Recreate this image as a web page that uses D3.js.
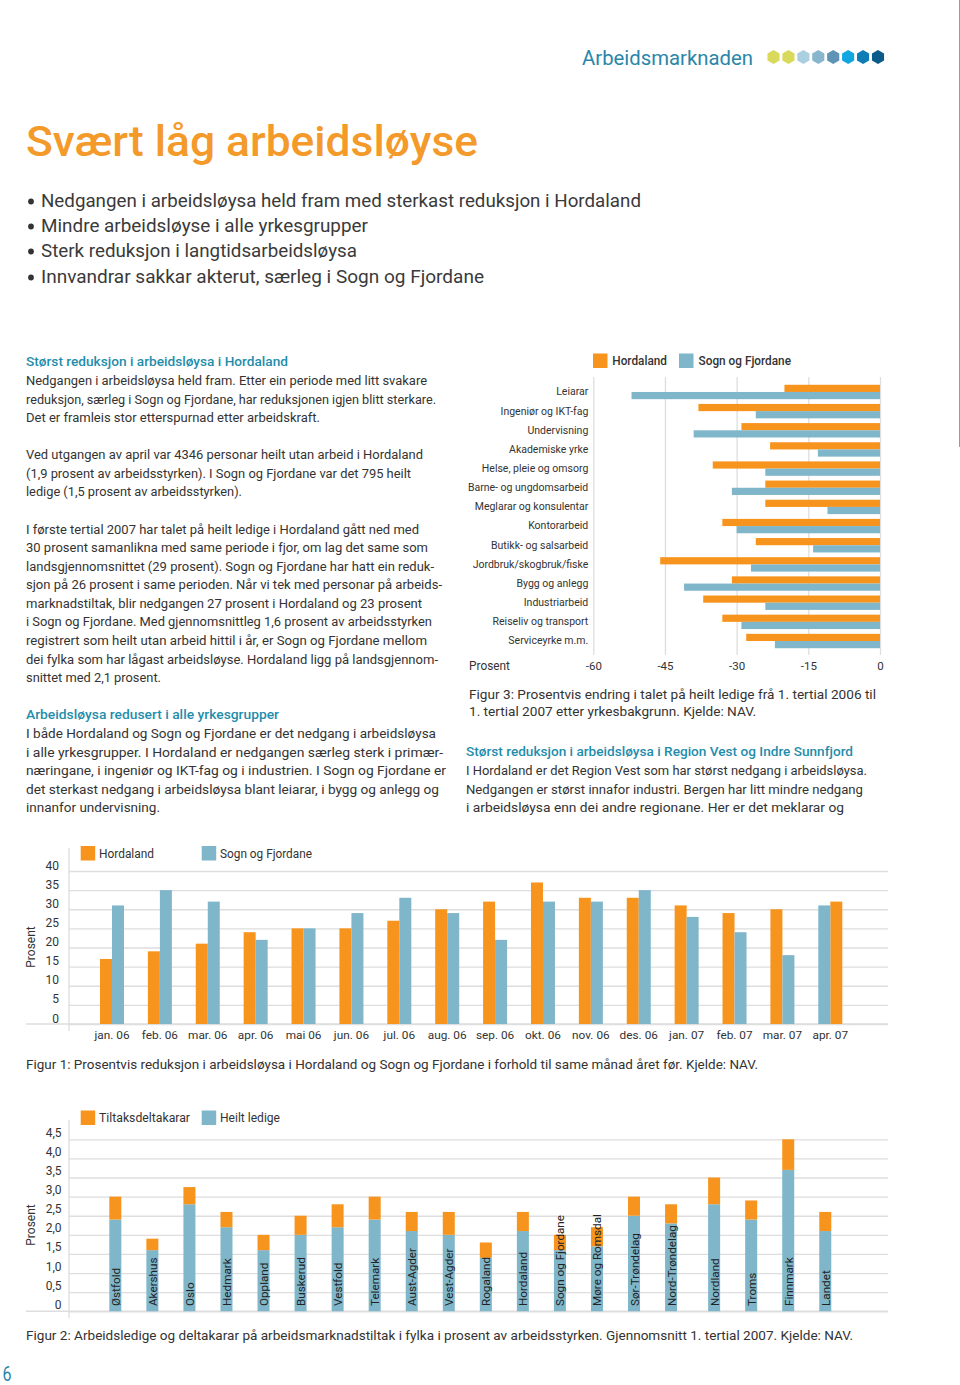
<!DOCTYPE html>
<html lang="nn">
<head>
<meta charset="utf-8">
<script src="https://cdn.jsdelivr.net/npm/d3@7"></script>
<style>
html,body{margin:0;padding:0;background:#fff;}
svg{display:block;font-family:Roboto,"Open Sans",sans-serif;}
</style>
</head>
<body>
<svg id="page" width="960" height="1385"></svg>
<script>
// ---------- chart data ----------
const occupations = ["Leiarar","Ingeniør og IKT-fag","Undervisning","Akademiske yrke","Helse, pleie og omsorg","Barne- og ungdomsarbeid","Meglarar og konsulentar","Kontorarbeid","Butikk- og salsarbeid","Jordbruk/skogbruk/fiske","Bygg og anlegg","Industriarbeid","Reiseliv og transport","Serviceyrke m.m."];
const occHordaland = [-20,-38,-29,-23,-35,-24,-24,-33,-26,-46,-31,-37,-33,-28];
const occSogn = [-52,-26,-39,-13,-24,-31,-11,-30,-14,-27,-41,-24,-29,-22];
const occTicks = [-60,-45,-30,-15,0];

const months = ["jan. 06","feb. 06","mar. 06","apr. 06","mai 06","jun. 06","jul. 06","aug. 06","sep. 06","okt. 06","nov. 06","des. 06","jan. 07","feb. 07","mar. 07","apr. 07"];
const monthHordaland = [17,19,21,24,25,25,27,30,32,37,33,33,31,29,30,32];
const monthSogn = [31,35,32,22,25,29,33,29,22,32,32,35,28,24,18,31];
const monthTicks = [0,5,10,15,20,25,30,35,40];

const counties = ["Østfold","Akershus","Oslo","Hedmark","Oppland","Buskerud","Vestfold","Telemark","Aust-Agder","Vest-Agder","Rogaland","Hordaland","Sogn og Fjordane","Møre og Romsdal","Sør-Trøndelag","Nord-Trøndelag","Nordland","Troms","Finnmark","Landet"];
const heiltLedige = [2.4,1.6,2.8,2.2,1.6,2.0,2.2,2.4,2.1,2.0,1.4,2.1,1.6,1.7,2.5,2.3,2.8,2.4,3.7,2.1];
const tiltaksdeltakarar = [0.6,0.3,0.45,0.4,0.4,0.5,0.6,0.6,0.5,0.6,0.4,0.5,0.4,0.5,0.5,0.5,0.7,0.5,0.8,0.5];
const countyTicks = [0,0.5,1,1.5,2,2.5,3,3.5,4,4.5];

// ---------- page text ----------
const bullets = [
 ["Nedgangen i arbeidsløysa held fram med sterkast reduksjon i Hordaland",207,641],
 ["Mindre arbeidsløyse i alle yrkesgrupper",232,368],
 ["Sterk reduksjon i langtidsarbeidsløysa",257,357],
 ["Innvandrar sakkar akterut, særleg i Sogn og Fjordane",283,484]];
const leftColumn = [
 ["Størst reduksjon i arbeidsløysa i Hordaland",366,288,1],
 ["Nedgangen i arbeidsløysa held fram. Etter ein periode med litt svakare",385,427],
 ["reduksjon, særleg i Sogn og Fjordane, har reduksjonen igjen blitt sterkare.",403.5,436],
 ["Det er framleis stor etterspurnad etter arbeidskraft.",422,320],
 ["Ved utgangen av april var 4346 personar heilt utan arbeid i Hordaland",459,423],
 ["(1,9 prosent av arbeidsstyrken). I Sogn og Fjordane var det 795 heilt",478,411],
 ["ledige (1,5 prosent av arbeidsstyrken).",496,242],
 ["I første tertial 2007 har talet på heilt ledige i Hordaland gått ned med",533.5,419],
 ["30 prosent samanlikna med same periode i fjor, om lag det same som",552,428],
 ["landsgjennomsnittet (29 prosent). Sogn og Fjordane har hatt ein reduk-",570.5,434],
 ["sjon på 26 prosent i same perioden. Når vi tek med personar på arbeids-",589,442],
 ["marknadstiltak, blir nedgangen 27 prosent i Hordaland og 23 prosent",607.5,422],
 ["i Sogn og Fjordane. Med gjennomsnittleg 1,6 prosent av arbeidsstyrken",626,432],
 ["registrert som heilt utan arbeid hittil i år, er Sogn og Fjordane mellom",645,427],
 ["dei fylka som har lågast arbeidsløyse. Hordaland ligg på landsgjennom-",663.5,438],
 ["snittet med 2,1 prosent.",682,161],
 ["Arbeidsløysa redusert i alle yrkesgrupper",719,279,1],
 ["I både Hordaland og Sogn og Fjordane er det nedgang i arbeidsløysa",738,436],
 ["i alle yrkesgrupper. I Hordaland er nedgangen særleg sterk i primær-",756.5,443],
 ["næringane, i ingeniør og IKT-fag og i industrien. I Sogn og Fjordane er",775,446],
 ["det sterkast nedgang i arbeidsløysa blant leiarar, i bygg og anlegg og",793.5,439],
 ["innanfor undervisning.",812,160]];
const rightColumn = [
 ["Størst reduksjon i arbeidsløysa i Region Vest og Indre Sunnfjord",756,853,1],
 ["I Hordaland er det Region Vest som har størst nedgang i arbeidsløysa.",775,867],
 ["Nedgangen er størst innafor industri. Bergen har litt mindre nedgang",793.5,863],
 ["i arbeidsløysa enn dei andre regionane. Her er det meklarar og",812,844]];
const hexColors = ["#d9d95c","#d9d95c","#a9cfe1","#88b6cd","#5f94b6","#12a6e0","#0e7db6","#0b5c88"];

// ---------- styles ----------
const ORANGE="#f7941e", BLUE="#7fb6ca", GRID="#dedede", INK="#333333", TEAL="#1f8dab";
const svg = d3.select("#page");

function line(str,x,y,end,size,fill,weight){
  const t = svg.append("text").attr("x",x).attr("y",y).attr("font-size",size).attr("fill",fill||INK)
    .attr("font-weight",weight||400).text(str);
  if(end){ t.attr("textLength",end-x).attr("lengthAdjust","spacingAndGlyphs"); }
  return t;
}
function swatch(x,y,color){ svg.append("rect").attr("x",x).attr("y",y).attr("width",14.5).attr("height",14.5).attr("fill",color); }
function styleAxis(g){
  g.select(".domain").remove();
  g.selectAll(".tick line").attr("stroke",GRID).attr("stroke-width",1.3);
  g.selectAll(".tick text").attr("fill",INK).attr("font-size",11.5).attr("font-family","Roboto,sans-serif");
}

// ---------- header ----------
svg.append("line").attr("x1",959.5).attr("x2",959.5).attr("y1",0).attr("y2",447).attr("stroke","#9a9a9a").attr("stroke-width",1);
line("Arbeidsmarknaden",582,65,753,20,"#2a86a8");
const hexX = d3.scalePoint().domain(d3.range(hexColors.length)).range([773.5,878]);
const hexPath = d3.lineRadial().angle((d,i)=>i*Math.PI/3).radius(7).curve(d3.curveLinearClosed);
svg.selectAll(".hex").data(hexColors).join("path").attr("class","hex")
  .attr("transform",(d,i)=>`translate(${hexX(i)},57)`)
  .attr("d",hexPath(d3.range(6))).attr("fill",d=>d);

line("Svært låg arbeidsløyse",26,156,478,42,"#f39a2b",500);
bullets.forEach(b=>{
  svg.append("circle").attr("cx",31).attr("cy",b[1]-5.5).attr("r",2.9).attr("fill",INK);
  line(b[0],41,b[1],b[2],18,"#3a3a3a");
});
leftColumn.forEach(l=>line(l[0],26,l[1],l[2],12.5,l[3]?TEAL:INK,l[3]?500:400));
rightColumn.forEach(l=>line(l[0],466,l[1],l[2],12.5,l[3]?TEAL:INK,l[3]?500:400));
line("Figur 3: Prosentvis endring i talet på heilt ledige frå 1. tertial 2006 til",469,699,876,13,INK);
line("1. tertial 2007 etter yrkesbakgrunn. Kjelde: NAV.",469,715.5,756,13,INK);

// ---------- Figur 3 (horizontal bars) ----------
{
  const x = d3.scaleLinear().domain([-60,0]).range([593.3,880]);
  const y = d3.scaleBand().domain(occupations).range([382.4,650.6]);
  const sub = d3.scaleBand().domain(["h","s"]).range([y.bandwidth()/2-7.2,y.bandwidth()/2+7.2]);
  svg.append("g").attr("transform","translate(0,655)")
    .call(d3.axisBottom(x).tickValues(occTicks).tickFormat(d=>String(d)).tickSizeInner(-278).tickSizeOuter(0).tickPadding(0))
    .call(styleAxis)
    .call(g=>g.selectAll(".tick text").attr("y",14.5).attr("dy",0));
  const rows = occupations.map((c,i)=>({c,h:occHordaland[i],s:occSogn[i]}));
  [["h",ORANGE],["s",BLUE]].forEach(([k,color])=>{
    svg.selectAll(".f3"+k).data(rows).join("rect").attr("class","f3"+k)
      .attr("x",d=>x(d[k])).attr("width",d=>x(0)-x(d[k]))
      .attr("y",d=>y(d.c)+sub(k)).attr("height",sub.bandwidth()).attr("fill",color);
  });
  svg.append("g").attr("transform","translate(593.3,0)")
    .call(d3.axisLeft(y).tickSize(0).tickPadding(5))
    .call(styleAxis)
    .call(g=>g.selectAll(".tick text").attr("font-size",10.5).attr("dy","0.32em"));
  swatch(593,353.5,ORANGE); swatch(679,353.5,BLUE);
  line("Hordaland",612.3,364.5,667,12,INK,500);
  line("Sogn og Fjordane",698.6,364.5,791,12,INK,500);
  line("Prosent",469,669.5,510,12,INK);
}

// ---------- Figur 1 (grouped columns) ----------
{
  const x = d3.scaleBand().domain(months).range([88.05,854.25]);
  const y = d3.scaleLinear().domain([0,40]).range([1024,871]);
  svg.append("g").attr("transform","translate(69,0)")
    .call(d3.axisLeft(y).tickValues(monthTicks).tickFormat(d=>String(d)).tickSizeInner(-819).tickSizeOuter(0).tickPadding(10))
    .call(styleAxis)
    .call(g=>g.selectAll(".tick text").attr("dy",0).attr("y",-2).attr("font-size",12));
  svg.append("line").attr("x1",26).attr("x2",888).attr("y1",1024).attr("y2",1024).attr("stroke",GRID).attr("stroke-width",1.5);
  svg.append("line").attr("x1",69).attr("x2",69).attr("y1",848).attr("y2",1031).attr("stroke",GRID).attr("stroke-width",1.3);
  const cx = d=>x(d)+x.bandwidth()/2;
  const swapped = "apr. 07"; // blue stands first in the last group
  const rows = months.map((m,i)=>({m,h:monthHordaland[i],s:monthSogn[i]}));
  [["h",ORANGE,-12],["s",BLUE,0]].forEach(([k,color,off])=>{
    svg.selectAll(".f1"+k).data(rows).join("rect").attr("class","f1"+k)
      .attr("x",d=>cx(d.m)+(d.m===swapped?(k==="h"?0:-12):off)).attr("width",12)
      .attr("y",d=>y(d[k])).attr("height",d=>y(0)-y(d[k])).attr("fill",color);
  });
  svg.append("g").attr("transform","translate(0,1024)")
    .call(d3.axisBottom(x).tickSize(0).tickPadding(0))
    .call(styleAxis)
    .call(g=>g.selectAll(".tick text").attr("y",15).attr("dy",0).attr("font-size",11.8));
  swatch(80.7,846,ORANGE); swatch(201.7,846,BLUE);
  line("Hordaland",99,857.5,154,12,INK);
  line("Sogn og Fjordane",220,857.5,312,12,INK);
  svg.append("text").attr("transform","translate(35,947) rotate(-90)").attr("text-anchor","middle")
    .attr("font-size",12).attr("fill",INK).text("Prosent");
  line("Figur 1: Prosentvis reduksjon i arbeidsløysa i Hordaland og Sogn og Fjordane i forhold til same månad året før. Kjelde: NAV.",26,1069,758,13,INK);
}

// ---------- Figur 2 (stacked columns) ----------
{
  const x = d3.scaleBand().domain(counties).range([115.3-18.5,115.3-18.5+37.05*20]);
  const y = d3.scaleLinear().domain([0,4.5]).range([1311.3,1139.3]);
  const cx = (d,i)=>x(d)+x.bandwidth()/2+(i>=16?6:0); // wider gap before Nordland
  svg.append("g").attr("transform","translate(69,0)")
    .call(d3.axisLeft(y).tickValues(countyTicks).tickFormat(d=>d===0?"0":d3.format(".1f")(d).replace(".",",")).tickSizeInner(-819).tickSizeOuter(0).tickPadding(7.5))
    .call(styleAxis)
    .call(g=>g.selectAll(".tick text").attr("dy",0).attr("y",-3).attr("font-size",12));
  svg.append("line").attr("x1",26).attr("x2",888).attr("y1",1311.3).attr("y2",1311.3).attr("stroke",GRID).attr("stroke-width",1.5);
  svg.append("line").attr("x1",69).attr("x2",69).attr("y1",1120).attr("y2",1318).attr("stroke",GRID).attr("stroke-width",1.3);
  const rows = counties.map((c,i)=>({c,i,heilt:heiltLedige[i],tiltak:tiltaksdeltakarar[i]}));
  const stacked = d3.stack().keys(["heilt","tiltak"])(rows);
  const colors = {heilt:BLUE,tiltak:ORANGE};
  stacked.forEach(s=>{
    svg.selectAll(".f2"+s.key).data(s).join("rect").attr("class","f2"+s.key)
      .attr("x",d=>cx(d.data.c,d.data.i)-6).attr("width",12)
      .attr("y",d=>y(d[1])).attr("height",d=>y(d[0])-y(d[1])).attr("fill",colors[s.key]);
  });
  svg.selectAll(".f2lab").data(rows).join("text").attr("class","f2lab")
    .attr("transform",d=>`translate(${cx(d.c,d.i)+4.5},1306) rotate(-90)`)
    .attr("font-size",11.7).attr("fill","#222").text(d=>d.c);
  swatch(80.7,1110.5,ORANGE); swatch(201.7,1110.5,BLUE);
  line("Tiltaksdeltakarar",99,1122,190,12,INK);
  line("Heilt ledige",220,1122,280,12,INK);
  svg.append("text").attr("transform","translate(35,1225) rotate(-90)").attr("text-anchor","middle")
    .attr("font-size",12).attr("fill",INK).text("Prosent");
  line("Figur 2: Arbeidsledige og deltakarar på arbeidsmarknadstiltak i fylka i prosent av arbeidsstyrken. Gjennomsnitt 1. tertial 2007. Kjelde: NAV.",26,1340,853,13,INK);
}
line("6",2.5,1381,11.5,20,"#2a86a8");
</script>
</body>
</html>
